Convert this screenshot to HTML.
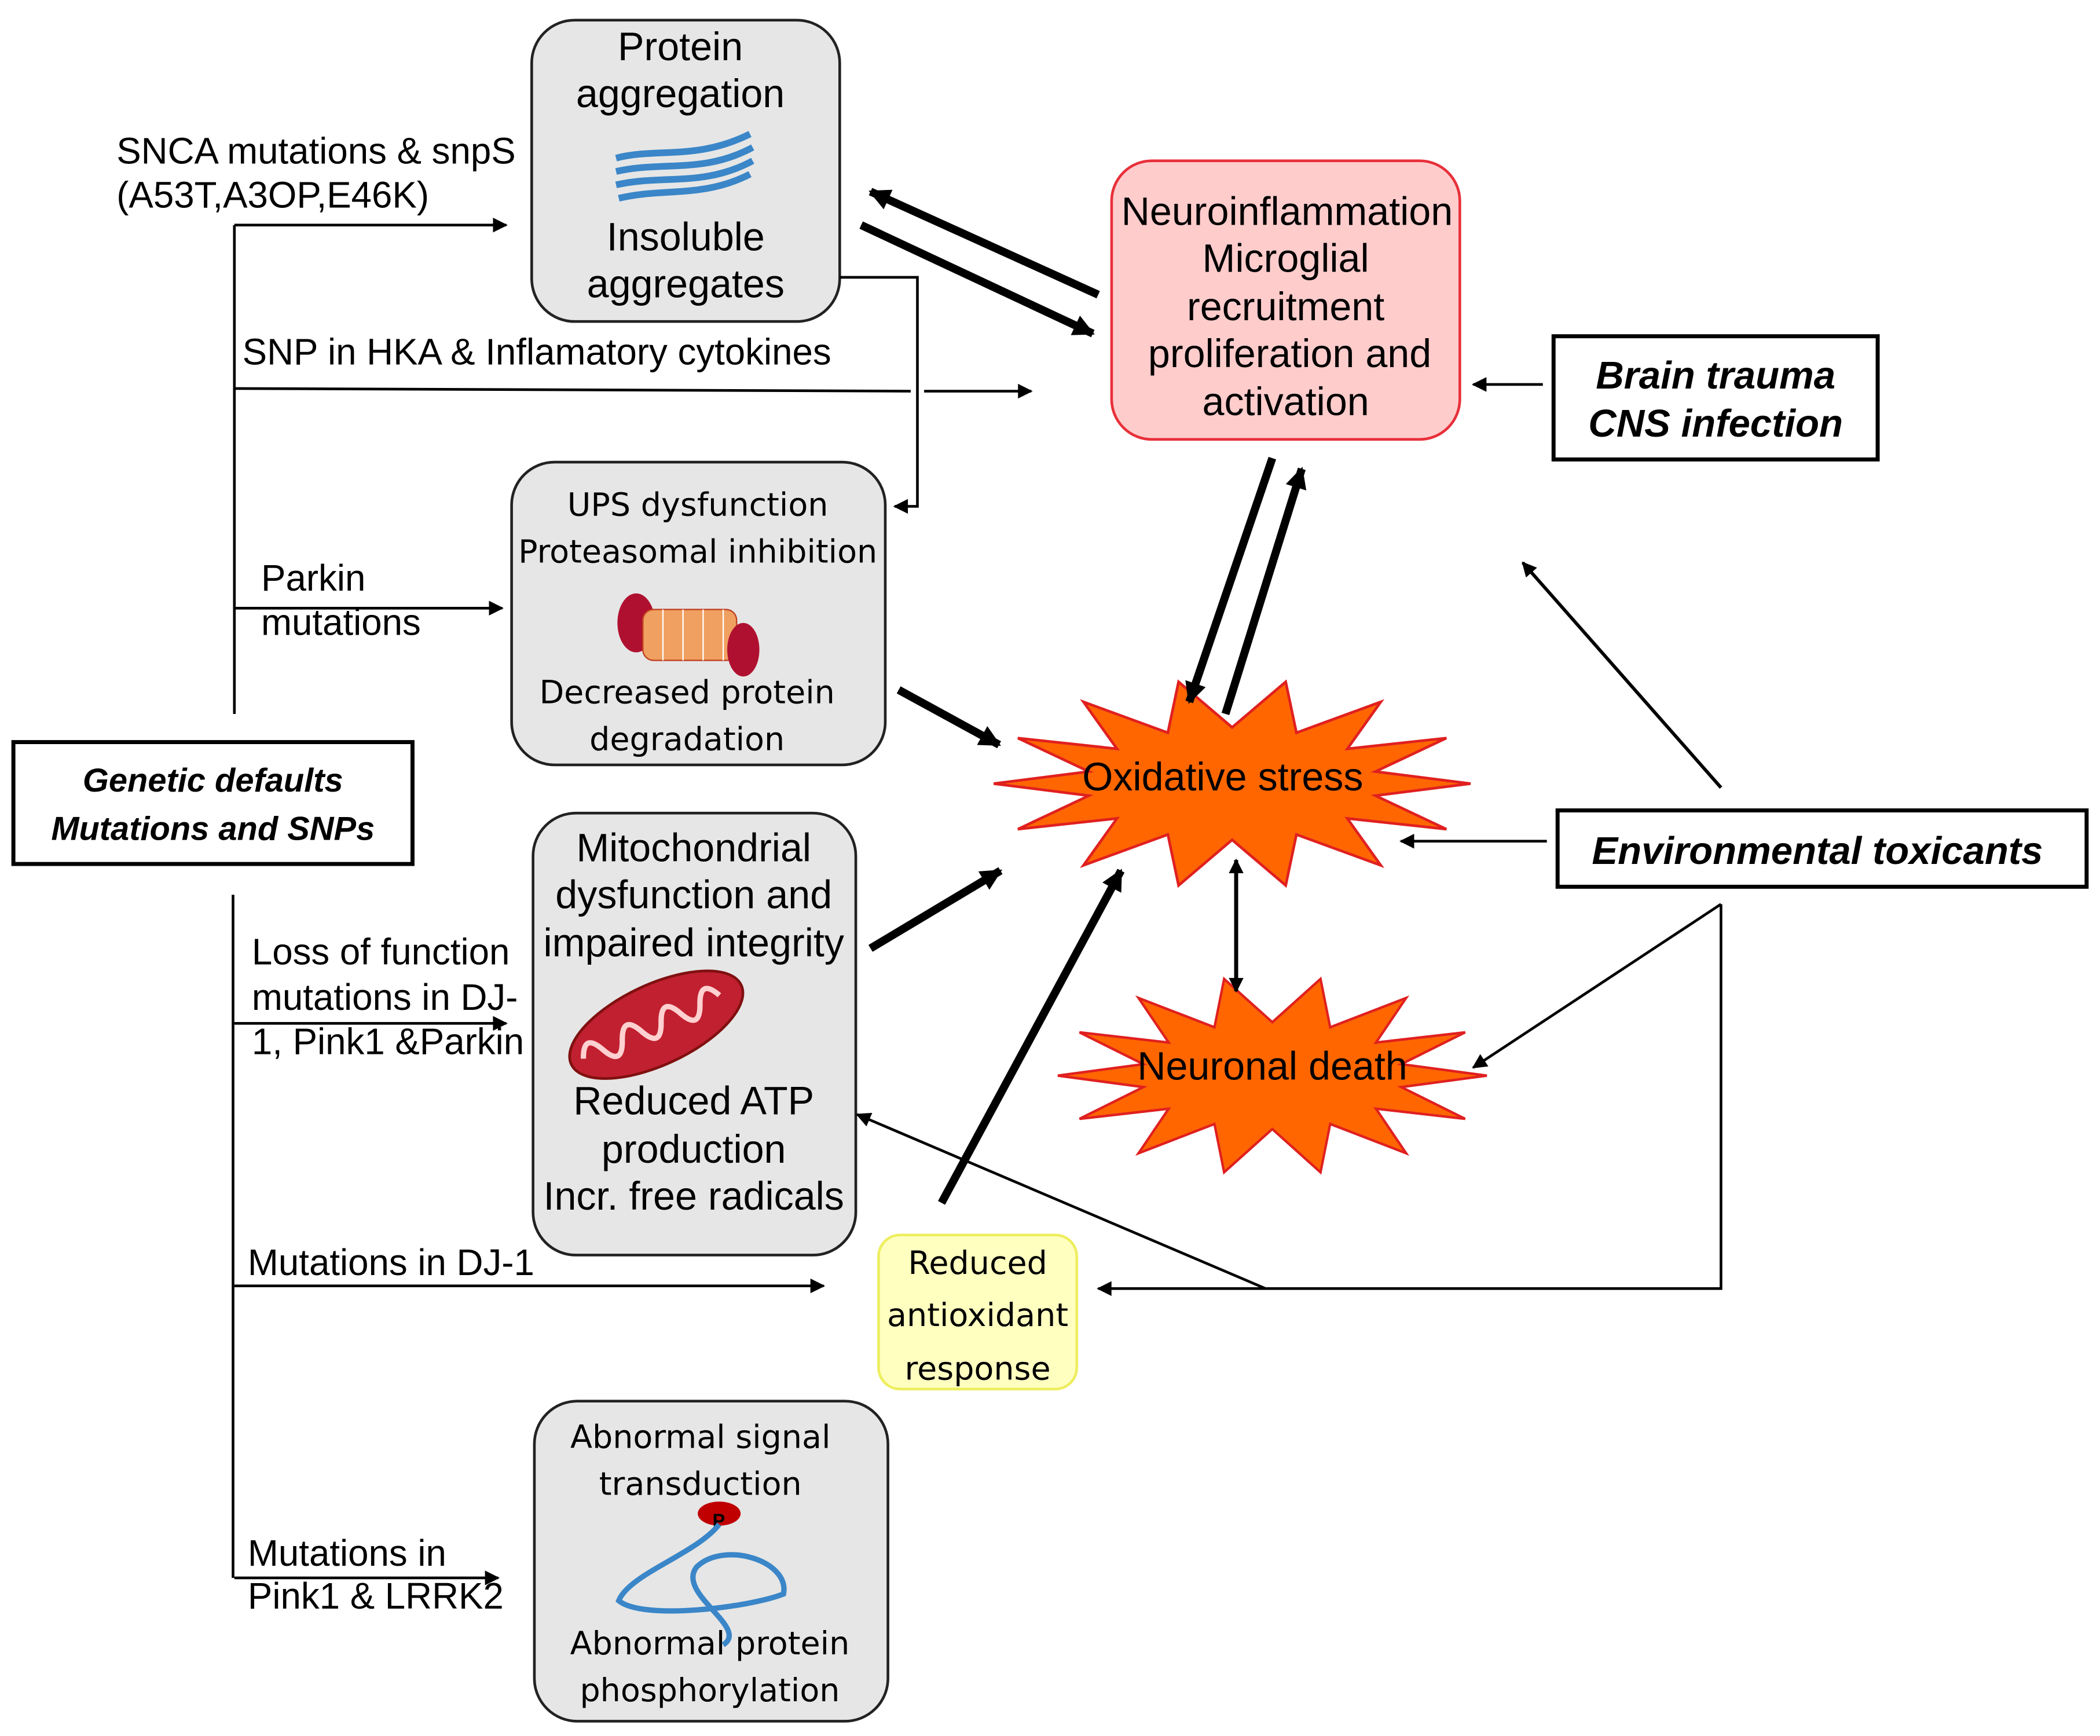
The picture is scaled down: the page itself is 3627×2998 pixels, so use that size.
<!DOCTYPE html>
<html><head><meta charset="utf-8"><style>
html,body{margin:0;padding:0;background:#fff;}
svg{display:block}
text{font-family:"Liberation Sans",sans-serif;fill:#000}
.d{font-family:"DejaVu Sans","Liberation Sans",sans-serif}
</style></head><body>
<svg width="3627" height="2998" viewBox="0 0 1568 1296" xmlns="http://www.w3.org/2000/svg">
<defs>
<marker id="a" viewBox="0 0 10 10" refX="9" refY="5" markerWidth="14" markerHeight="11" orient="auto-start-reverse" markerUnits="userSpaceOnUse"><path d="M0,0 L10,5 L0,10 z" fill="#000"/></marker>
<marker id="am" viewBox="0 0 10 10" refX="9" refY="5" markerWidth="18" markerHeight="16" orient="auto-start-reverse" markerUnits="userSpaceOnUse"><path d="M0,0 L10,5 L0,10 z" fill="#000"/></marker>
</defs>
<rect width="1568" height="1296" fill="#fff"/>

<!-- boxes -->
<rect x="397" y="15" width="230" height="225" rx="32" fill="#e6e6e6" stroke="#222" stroke-width="2"/>
<rect x="830" y="120" width="260" height="208" rx="30" fill="#ffcccc" stroke="#e8303a" stroke-width="2"/>
<rect x="1160" y="251" width="242" height="92" fill="#fff" stroke="#000" stroke-width="3"/>
<rect x="382" y="345" width="279" height="226" rx="32" fill="#e6e6e6" stroke="#222" stroke-width="2"/>
<rect x="10" y="554" width="298" height="91" fill="#fff" stroke="#000" stroke-width="3"/>
<rect x="1163" y="605" width="395" height="57" fill="#fff" stroke="#000" stroke-width="3"/>
<rect x="398" y="607" width="241" height="330" rx="32" fill="#e6e6e6" stroke="#222" stroke-width="2"/>
<rect x="656" y="922" width="148" height="115" rx="16" fill="#ffffc0" stroke="#eeee60" stroke-width="2"/>
<rect x="399" y="1046" width="264" height="239" rx="32" fill="#e6e6e6" stroke="#222" stroke-width="2"/>

<!-- stars -->
<polygon points="1098,585 1027,594 1080,619 1006,611 1031,646 968,623 960,661 920,627 880,661 872,623 809,646 834,611 760,619 813,594 742,585 813,576 760,551 834,559 809,524 872,547 880,509 920,543 960,509 968,547 1031,524 1006,559 1080,551 1027,576" fill="#ff6600" stroke="#e02020" stroke-width="2"/>
<g transform="translate(950,803) scale(0.9,0.95) translate(-920,-585)">
<polygon points="1098,585 1027,594 1080,619 1006,611 1031,646 968,623 960,661 920,627 880,661 872,623 809,646 834,611 760,619 813,594 742,585 813,576 760,551 834,559 809,524 872,547 880,509 920,543 960,509 968,547 1031,524 1006,559 1080,551 1027,576" fill="#ff6600" stroke="#e02020" stroke-width="2"/>
</g>

<!-- icons -->
<g fill="none" stroke="#3a86c8" stroke-width="5">
<path d="M460,118 C490,110 520,120 560,100"/>
<path d="M460,128 C495,120 525,130 562,110"/>
<path d="M460,138 C495,130 525,140 562,120"/>
<path d="M462,148 C495,140 525,148 560,130"/>
</g>
<g>
<ellipse cx="475" cy="465" rx="14" ry="22" fill="#b01030"/>
<rect x="480" y="455" width="70" height="38" rx="8" fill="#f0a060" stroke="#c04020"/>
<line x1="495" y1="455" x2="495" y2="493" stroke="#fff"/><line x1="510" y1="455" x2="510" y2="493" stroke="#fff"/><line x1="525" y1="455" x2="525" y2="493" stroke="#fff"/><line x1="540" y1="455" x2="540" y2="493" stroke="#fff"/>
<ellipse cx="555" cy="485" rx="12" ry="20" fill="#b01030"/>
</g>
<g transform="rotate(-25 490 765)">
<ellipse cx="490" cy="765" rx="70" ry="30" fill="#c02030" stroke="#801010" stroke-width="2"/>
<path d="M430,765 q8,-18 16,0 t16,0 t16,0 t16,0 t16,0 t16,0 t16,0" fill="none" stroke="#ffd0d0" stroke-width="4"/>
</g>
<ellipse cx="537" cy="1130" rx="16" ry="9" fill="#c00000"/>
<text x="532" y="1140" font-size="14" font-weight="bold">P</text>
<path d="M537,1138 C520,1160 470,1175 462,1195 C480,1210 560,1200 585,1190 C590,1165 540,1150 520,1170 C505,1190 560,1215 540,1228" fill="none" stroke="#3a86c8" stroke-width="4"/>

<!-- box text -->
<g font-size="29.5" text-anchor="middle">
<text x="508" y="45">Protein</text><text x="508" y="80">aggregation</text>
<text x="512" y="187">Insoluble</text><text x="512" y="222">aggregates</text>
<text x="961" y="168">Neuroinflammation</text><text x="960" y="203">Microglial</text>
<text x="960" y="239">recruitment</text><text x="963" y="274">proliferation and</text><text x="960" y="310">activation</text>
<text x="518" y="643">Mitochondrial</text><text x="518" y="678">dysfunction and</text><text x="518" y="714">impaired integrity</text>
<text x="518" y="832">Reduced ATP</text><text x="518" y="868">production</text><text x="518" y="903">Incr. free radicals</text>
<text x="913" y="590">Oxidative stress</text>
<text x="950" y="806">Neuronal death</text>
</g>
<g font-size="24" text-anchor="middle" class="d">
<text class="d" x="521" y="385">UPS dysfunction</text><text class="d" x="521" y="420">Proteasomal inhibition</text>
<text class="d" x="513" y="525">Decreased protein</text><text class="d" x="513" y="560">degradation</text>
<text class="d" x="730" y="951">Reduced</text><text class="d" x="730" y="990">antioxidant</text><text class="d" x="730" y="1030">response</text>
<text class="d" x="523" y="1081">Abnormal signal</text><text class="d" x="523" y="1116">transduction</text>
<text class="d" x="530" y="1235">Abnormal protein</text><text class="d" x="530" y="1270">phosphorylation</text>
</g>
<g font-weight="bold" font-style="italic" text-anchor="middle">
<text x="1281" y="290" font-size="29">Brain trauma</text><text x="1281" y="326" font-size="29">CNS infection</text>
<text x="159" y="591" font-size="25">Genetic defaults</text><text x="159" y="627" font-size="25">Mutations and SNPs</text>
<text x="1357" y="645" font-size="29">Environmental toxicants</text>
</g>

<!-- left labels -->
<g font-size="27.5">
<text x="87" y="122">SNCA mutations &amp; snpS</text><text x="87" y="155">(A53T,A3OP,E46K)</text>
<text x="181" y="272">SNP in HKA &amp; Inflamatory cytokines</text>
<text x="195" y="441">Parkin</text><text x="195" y="474">mutations</text>
<text x="188" y="720">Loss of function</text><text x="188" y="754">mutations in DJ-</text><text x="188" y="787">1, Pink1 &amp;Parkin</text>
<text x="185" y="952">Mutations in DJ-1</text>
<text x="185" y="1169">Mutations in</text><text x="185" y="1201">Pink1 &amp; LRRK2</text>
</g>

<!-- thin connectors -->
<g stroke="#000" stroke-width="2" fill="none">
<line x1="175" y1="168" x2="175" y2="533"/>
<line x1="174" y1="668" x2="174" y2="1178"/>
<line x1="175" y1="168" x2="378" y2="168" marker-end="url(#a)"/>
<line x1="175" y1="290" x2="680" y2="292"/>
<line x1="690" y1="292" x2="770" y2="292" marker-end="url(#a)"/>
<line x1="175" y1="454" x2="375" y2="454" marker-end="url(#a)"/>
<line x1="175" y1="764" x2="378" y2="764" marker-end="url(#a)"/>
<line x1="175" y1="960" x2="615" y2="960" marker-end="url(#a)"/>
<line x1="175" y1="1178" x2="372" y2="1178" marker-end="url(#a)"/>
<polyline points="627,207 685,207 685,378 668,378" marker-end="url(#a)"/>
<line x1="1152" y1="287" x2="1100" y2="287" marker-end="url(#a)"/>
<line x1="1155" y1="628" x2="1046" y2="628" marker-end="url(#a)"/>
<line x1="1285" y1="588" x2="1137" y2="420" marker-end="url(#a)" stroke-width="2.5"/>
<polyline points="1285,675 1285,962 820,962" marker-end="url(#a)"/>
<line x1="1285" y1="675" x2="1100" y2="797" marker-end="url(#a)"/>
<line x1="945" y1="962" x2="640" y2="832" marker-end="url(#a)"/>
<line x1="923" y1="642" x2="923" y2="740" marker-start="url(#a)" marker-end="url(#a)" stroke-width="3"/>
</g>
<!-- thick arrows -->
<g stroke="#000" stroke-width="6" fill="none">
<line x1="820" y1="220" x2="650" y2="143" marker-end="url(#am)"/>
<line x1="643" y1="168" x2="816" y2="249" marker-end="url(#am)"/>
<line x1="950" y1="342" x2="888" y2="524" marker-end="url(#am)"/>
<line x1="915" y1="533" x2="972" y2="350" marker-end="url(#am)"/>
<line x1="671" y1="515" x2="746" y2="556" marker-end="url(#am)"/>
<line x1="650" y1="708" x2="747" y2="650" marker-end="url(#am)"/>
<line x1="703" y1="898" x2="837" y2="650" marker-end="url(#am)"/>
</g>
</svg>
</body></html>
